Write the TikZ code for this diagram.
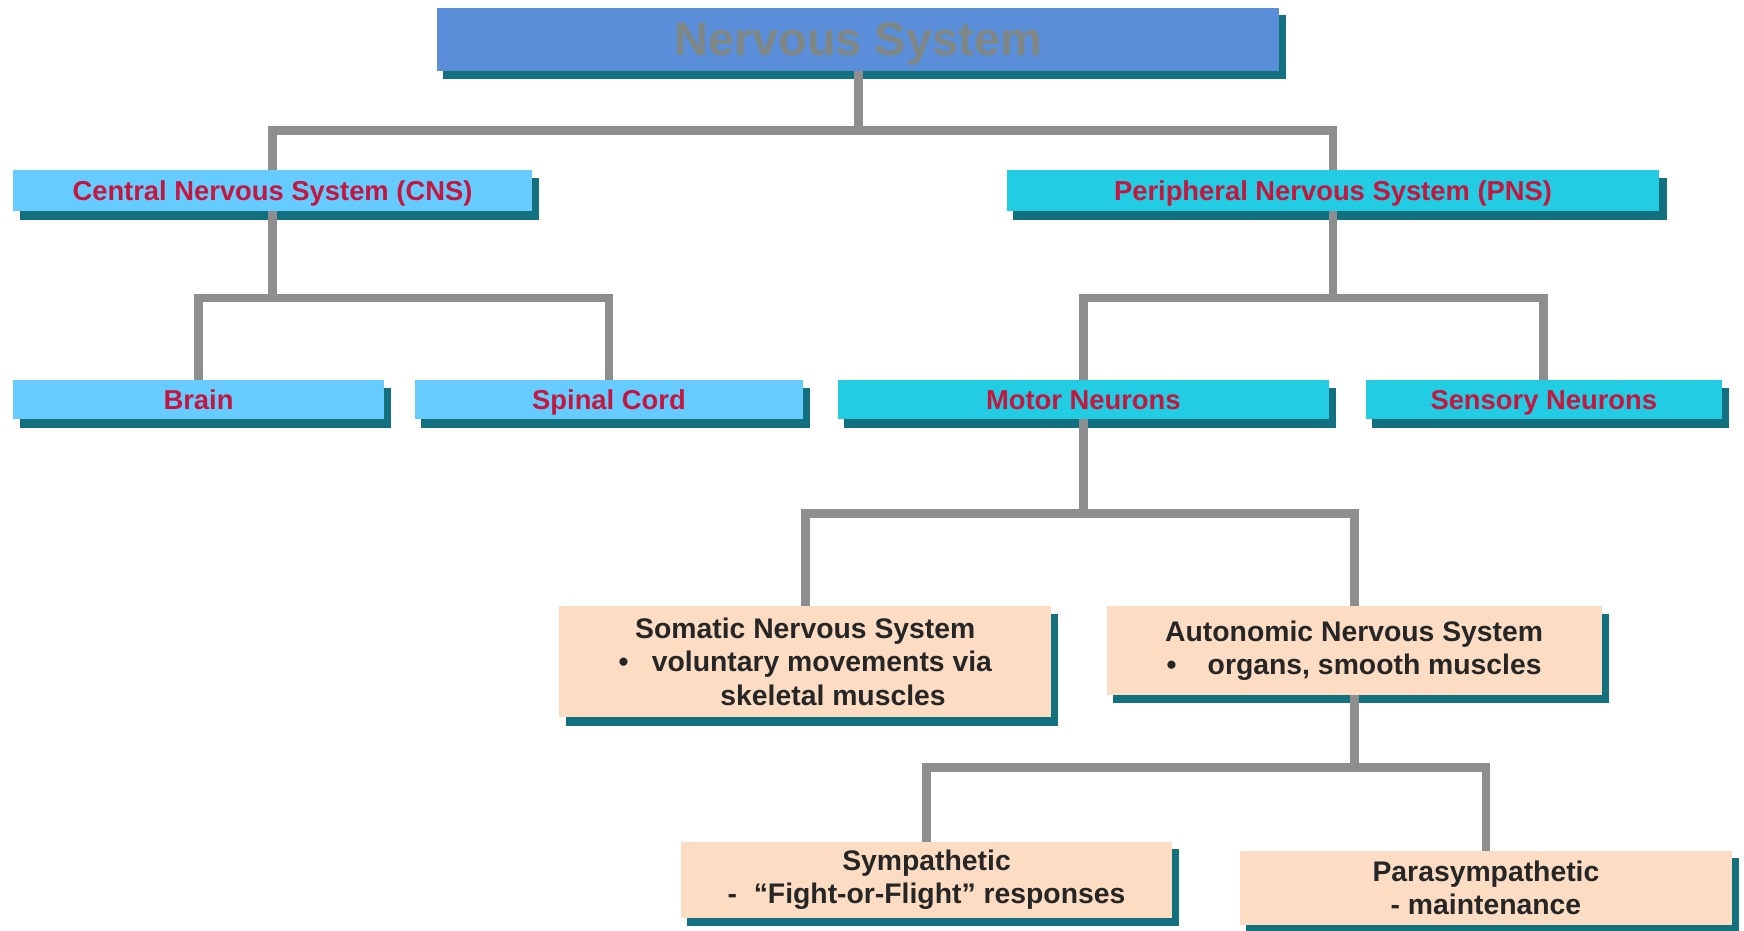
\documentclass[tikz,border=0pt]{standalone}
\usepackage{fontspec}
\setmainfont{Liberation Sans}
\usetikzlibrary{positioning,calc,backgrounds}
\definecolor{nsBlue}{HTML}{5B8ED8}
\definecolor{nsGrayText}{HTML}{7F8784}
\definecolor{nsSky}{HTML}{66CCFF}
\definecolor{nsCyan}{HTML}{22CCE2}
\definecolor{nsPeach}{HTML}{FCDDC3}
\definecolor{nsRed}{HTML}{C3173F}
\definecolor{nsInk}{HTML}{262626}
\definecolor{nsShadow}{HTML}{13707E}
\definecolor{nsEdge}{HTML}{8E8E8E}
\pgfdeclarelayer{shadows}
\pgfsetlayers{shadows,background,main}
\tikzset{
  nsbox/.style={rectangle,inner sep=0pt,align=center},
  nsTop/.style={nsbox,text height=16pt,text depth=0pt,fill=nsBlue,text=nsGrayText,
    font=\bfseries\fontsize{24}{28}\selectfont},
  nsCns/.style={nsbox,text height=10pt,text depth=0pt,fill=nsSky,text=nsRed,
    font=\bfseries\fontsize{14}{16}\selectfont},
  nsPns/.style={nsbox,text height=10pt,text depth=0pt,fill=nsCyan,text=nsRed,
    font=\bfseries\fontsize{14}{16}\selectfont},
  nsInfo/.style={nsbox,fill=nsPeach,text=nsInk,
    font=\bfseries\fontsize{14.5}{17}\selectfont},
  nsEdgeLine/.style={draw=nsEdge,line width=4.5pt}
}
\begin{document}
\begin{tikzpicture}
\useasboundingbox (0,0) rectangle (31.36,-16.74);
% boxes
\node[nsTop,minimum width=15.14cm,minimum height=1.14cm] (ns) at (15.43,-0.71)
  {Nervous System};
\node[nsCns,minimum width=9.32cm,minimum height=0.74cm] (cns) at (4.90,-3.43)
  {Central Nervous System (CNS)};
\node[nsPns,minimum width=11.74cm,minimum height=0.74cm] (pns) at (23.97,-3.43)
  {Peripheral Nervous System (PNS)};
\node[nsCns,minimum width=6.66cm,minimum height=0.70cm] (brain) at (3.57,-7.19)
  {Brain};
\node[nsCns,minimum width=6.98cm,minimum height=0.70cm] (spinal) at (10.95,-7.19)
  {Spinal Cord};
\node[nsPns,minimum width=8.84cm,minimum height=0.70cm] (motor) at (19.48,-7.19)
  {Motor Neurons};
\node[nsPns,minimum width=6.40cm,minimum height=0.70cm] (sensory) at (27.76,-7.19)
  {Sensory Neurons};
\node[nsInfo,minimum width=8.84cm,minimum height=2.00cm] (somatic) at (14.48,-11.90)
  {Somatic Nervous System\\\textbullet\hspace{0.42cm}voluntary movements via\\\hspace*{1.0cm}skeletal muscles};
\node[nsInfo,minimum width=8.90cm,minimum height=1.60cm] (autonomic) at (24.35,-11.70)
  {Autonomic Nervous System\\\textbullet\hspace{0.56cm}organs, smooth muscles};
\node[nsInfo,minimum width=8.84cm,minimum height=1.36cm] (sympathetic) at (16.66,-15.82)
  {Sympathetic\\-\hspace{0.3cm}“Fight-or-Flight” responses};
\node[nsInfo,minimum width=8.84cm,minimum height=1.34cm] (parasympathetic) at (26.72,-15.97)
  {Parasympathetic\\- maintenance};
% bar heights
\coordinate (barTop) at (0,-2.34);
\coordinate (barCns) at (0,-5.36);
\coordinate (barMotor) at (0,-9.24);
\coordinate (barAuto) at (0,-13.80);
% shadows
\begin{pgfonlayer}{shadows}
  \foreach \n in {ns,cns,pns,brain,spinal,motor,sensory,somatic,autonomic,sympathetic,parasympathetic}
    \fill[nsShadow] ([shift={(0.12,-0.14)}]\n.south west) rectangle ([shift={(0.12,-0.14)}]\n.north east);
\end{pgfonlayer}
% connectors
\begin{scope}[on background layer]
  \draw[nsEdgeLine] (ns.center) -- (ns.center |- barTop);
  \draw[nsEdgeLine] (cns.center) |- (ns.center |- barTop) -| (pns.center);
  \draw[nsEdgeLine] (cns.center) -- (cns.center |- barCns);
  \draw[nsEdgeLine] (brain.center) |- (cns.center |- barCns) -| (spinal.center);
  \draw[nsEdgeLine] (pns.center) -- (pns.center |- barCns);
  \draw[nsEdgeLine] (motor.center) |- (pns.center |- barCns) -| (sensory.center);
  \draw[nsEdgeLine] (motor.center) -- (motor.center |- barMotor);
  \draw[nsEdgeLine] (somatic.center) |- (motor.center |- barMotor) -| (autonomic.center);
  \draw[nsEdgeLine] (autonomic.center) -- (autonomic.center |- barAuto);
  \draw[nsEdgeLine] (sympathetic.center) |- (autonomic.center |- barAuto) -| (parasympathetic.center);
\end{scope}
\end{tikzpicture}
\end{document}
